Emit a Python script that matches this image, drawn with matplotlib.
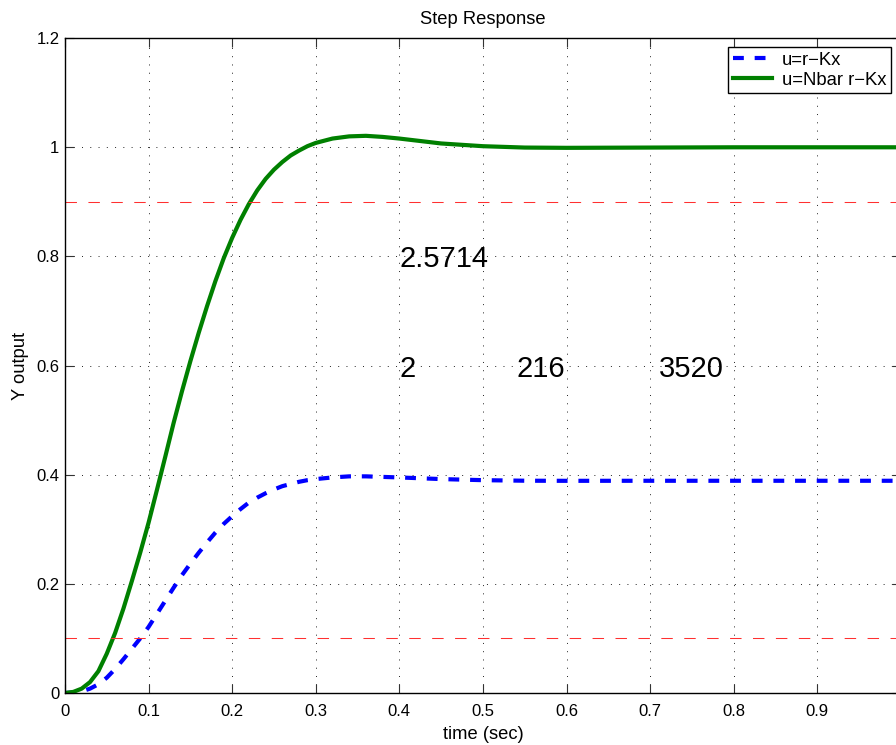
import matplotlib
matplotlib.use('Agg')
import matplotlib.pyplot as plt

plt.rcParams['font.family'] = ['Liberation Sans', 'DejaVu Sans']

# Step response
t = [0.00, 0.01, 0.02, 0.03, 0.04, 0.05, 0.06, 0.07, 0.08, 0.09,
     0.10, 0.11, 0.12, 0.13, 0.14, 0.15, 0.16, 0.17, 0.18, 0.19,
     0.20, 0.21, 0.22, 0.23, 0.24, 0.25, 0.26, 0.27, 0.28, 0.29,
     0.30, 0.32, 0.34, 0.36, 0.38, 0.40, 0.45, 0.50, 0.55, 0.60,
     0.70, 0.80, 0.90, 1.00]
y_nbar = [0.000, 0.002, 0.008, 0.020, 0.040, 0.072, 0.110, 0.155, 0.205, 0.257,
          0.312, 0.372, 0.433, 0.495, 0.553, 0.608, 0.660, 0.709, 0.755, 0.797,
          0.834, 0.867, 0.896, 0.921, 0.942, 0.959, 0.973, 0.985, 0.994, 1.002,
          1.008, 1.016, 1.020, 1.021, 1.019, 1.016, 1.007, 1.002, 0.9995, 0.999,
          0.9995, 1.000, 1.000, 1.000]
y_plain = [0.000, 0.001, 0.003, 0.008, 0.016, 0.028, 0.044, 0.062, 0.081, 0.100,
           0.121, 0.145, 0.169, 0.193, 0.216, 0.237, 0.257, 0.276, 0.294, 0.310,
           0.324, 0.337, 0.349, 0.358, 0.366, 0.373, 0.379, 0.383, 0.387, 0.390,
           0.392, 0.395, 0.397, 0.397, 0.396, 0.395, 0.392, 0.390, 0.389, 0.3888,
           0.3889, 0.3889, 0.3889, 0.3889]

band = [0.1, 0.9]
notes = ['2.5714', '2', '216', '3520']
note_x = [0.4, 0.4, 0.54, 0.71]
note_y = [0.8, 0.6, 0.6, 0.6]

xticks = [0, 0.1, 0.2, 0.3, 0.4, 0.5, 0.6, 0.7, 0.8, 0.9]
xticklabels = ['0', '0.1', '0.2', '0.3', '0.4', '0.5', '0.6', '0.7', '0.8', '0.9']
yticks = [0, 0.2, 0.4, 0.6, 0.8, 1.0, 1.2]
yticklabels = ['0', '0.2', '0.4', '0.6', '0.8', '1', '1.2']

fig = plt.figure(figsize=(8.96, 7.45), dpi=100)
ax = fig.add_axes([0.0725, 0.0698, 0.933, 0.879])

ax.plot(t, y_plain, color='#0000ff', lw=3, dashes=(2.6, 2.6), label='u=r\u2212Kx')
ax.plot(t, y_nbar, color='#008000', lw=3, label='u=Nbar r\u2212Kx')
for b in band:
    ax.axhline(b, color='#ff3030', lw=0.75, dashes=(11, 11))

for s, x, y in zip(notes, note_x, note_y):
    ax.text(x, y, s, fontsize=21, ha='left', va='center_baseline')

ax.set_xlim(0, 1)
ax.set_ylim(0, 1.2)
ax.set_xticks(xticks)
ax.set_xticklabels(xticklabels)
ax.set_yticks(yticks)
ax.set_yticklabels(yticklabels)
ax.tick_params(direction='in', length=6.5, width=0.8, labelsize=12,
               top=True, right=True, color='#333333')
ax.tick_params(axis='x', pad=8)
ax.tick_params(axis='y', pad=4)
ax.grid(True, color='#222222', lw=0.7, dashes=(1, 7.5))
for sp in ax.spines.values():
    sp.set_linewidth(1.0)

ax.set_title('Step Response', fontsize=13.2, pad=10)
ax.set_xlabel('time (sec)', fontsize=13.2, labelpad=5)
ax.set_ylabel('Y output', fontsize=13.2, labelpad=5)

leg = ax.legend(loc='upper right', bbox_to_anchor=(0.988, 0.986), fontsize=13.3,
                fancybox=False, framealpha=1, edgecolor='black',
                handlelength=2.1, handletextpad=0.55, borderpad=0.25,
                labelspacing=0.15, borderaxespad=0)
leg.get_frame().set_linewidth(1.0)

fig.savefig('out.png', dpi=100)
